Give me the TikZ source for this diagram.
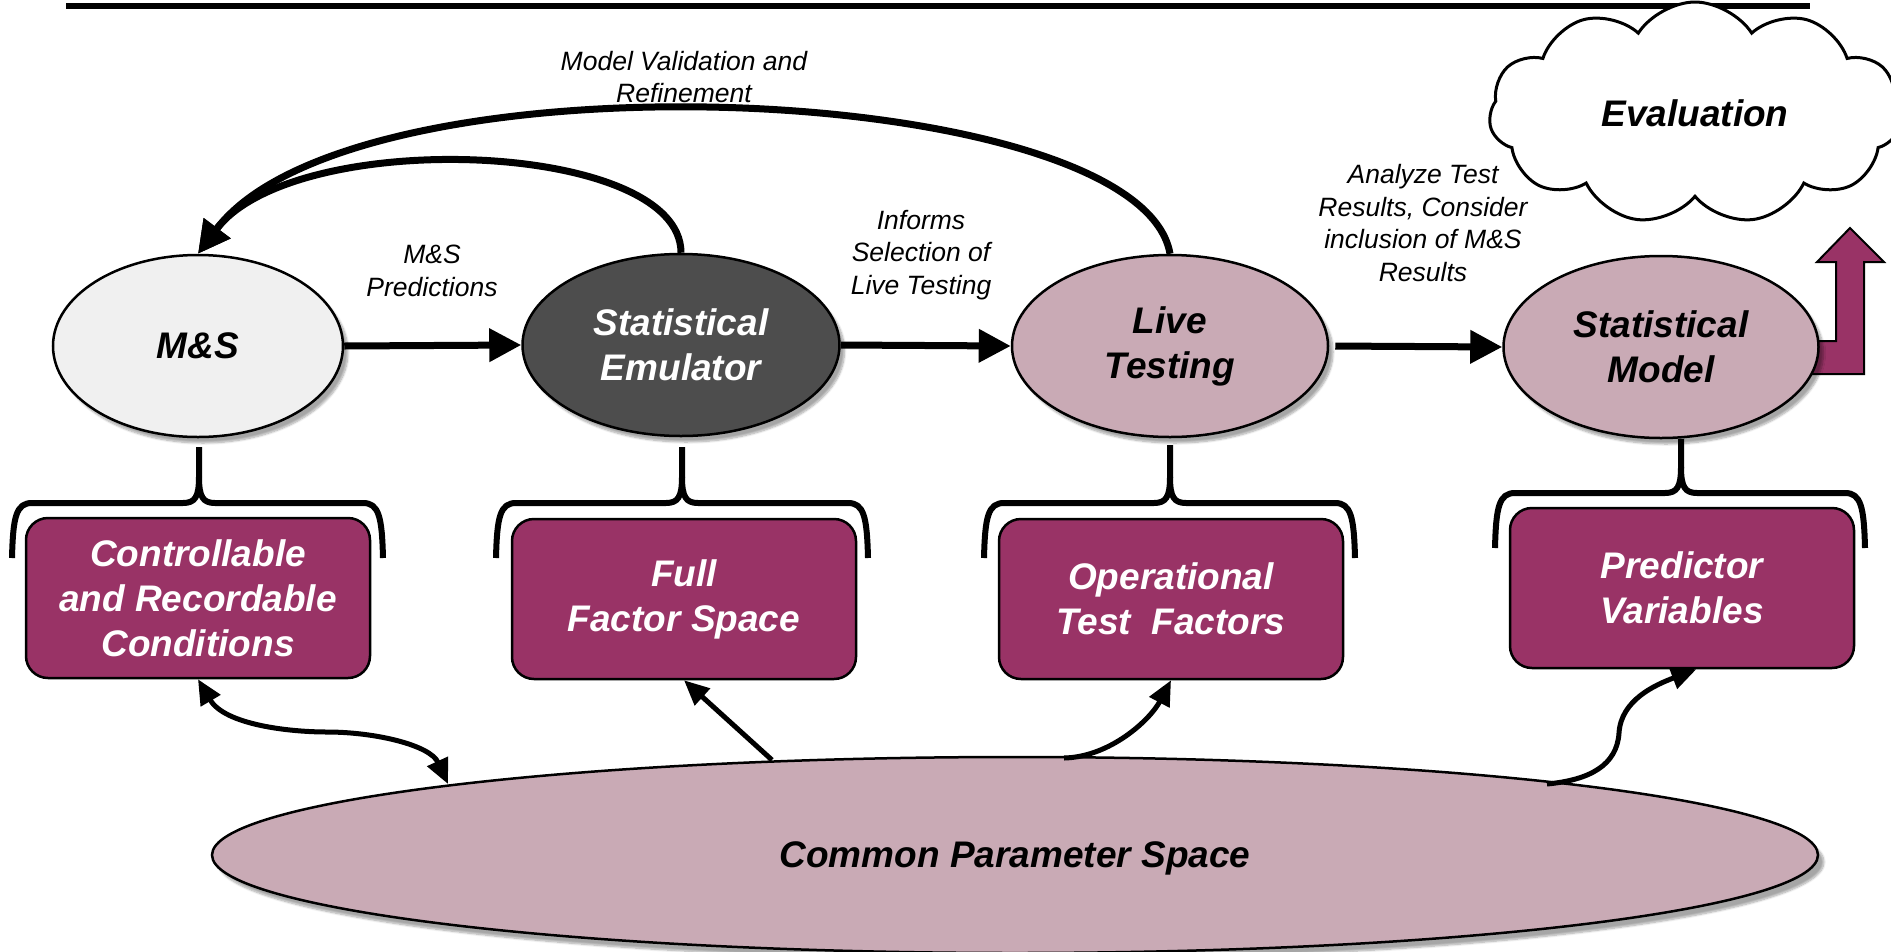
\documentclass[tikz,border=0pt]{standalone}
\usepackage{fontspec}
\setmainfont{Liberation Sans}
\usetikzlibrary{arrows.meta,shapes.geometric,shapes.symbols,shadows.blur}

\definecolor{plum}{HTML}{993366}
\definecolor{mauve}{HTML}{C9AAB5}
\definecolor{palegray}{HTML}{F0F0F0}
\definecolor{charcoal}{HTML}{4D4D4D}

% upward curly bracket: centre x, left x, right x, tip y, bar y, end y
\newcommand\upbrace[6]{%
  \draw[bracket] (#2,#6) .. controls (#2+1,#5+14) and (#2+4,#5) .. (#2+20,#5)
     -- (#1-16,#5) .. controls (#1-4,#5) and (#1,#5-6) .. (#1,#5-26) -- (#1,#4);
  \draw[bracket] (#3,#6) .. controls (#3-1,#5+14) and (#3-4,#5) .. (#3-20,#5)
     -- (#1+16,#5) .. controls (#1+4,#5) and (#1,#5-6) .. (#1,#5-26);
}

\begin{document}
\begin{tikzpicture}[x=1pt,y=-1pt,
  bigfont/.style={font=\fontsize{37}{45}\selectfont\bfseries\itshape},
  stage/.style={ellipse, draw=black, line width=2.5pt, minimum height=182pt,
    inner sep=0pt, align=center, bigfont,
    blur shadow={shadow xshift=5pt, shadow yshift=-6pt, shadow blur steps=8, shadow opacity=35}},
  factorbox/.style={rectangle, rounded corners=22pt, draw=black, line width=2.5pt,
    fill=plum, text=white, minimum width=344pt, minimum height=160pt,
    inner sep=0pt, align=center, bigfont},
  note/.style={align=center, inner sep=0pt, font=\fontsize{26.5}{32.5}\selectfont\itshape},
  flow/.style={line width=7pt, -{Triangle[length=32pt,width=32pt]}},
  link/.style={line width=5pt, -{Triangle[length=25pt,width=22pt]}},
  bracket/.style={line width=6pt, line join=round}
]
\useasboundingbox (0,0) rectangle (1891,951);

% rule across the top
\draw[line width=5.5pt] (66,6) coordinate (ruleL) -- (1810,6) coordinate (ruleR);

% cloud
\node[cloud, draw=black, fill=white, line width=3pt, cloud puffs=11, cloud puff arc=115,
  cloud ignores aspect, minimum width=412pt, minimum height=222pt, bigfont]
  (eval) at (1695,113) {Evaluation};

% bent block arrow leaving the statistical model
\draw[line width=2pt, fill=plum] (1790,341) -- (1836,341) -- (1836,262) -- (1817,262)
  -- (1850,228) -- (1884,262) -- (1864,262) -- (1864,374) -- (1790,374) -- cycle;

% stages
\node[stage, fill=palegray, minimum width=290pt] (ms) at (198,346) {M\&S};
\node[stage, fill=charcoal, text=white, minimum width=317pt] (emu) at (681,345) {Statistical\\Emulator};
\node[stage, fill=mauve, minimum width=316pt] (live) at (1170,346) {Live\\Testing};
\node[stage, fill=mauve, minimum width=315pt] (model) at (1661,347) {Statistical\\Model};

% factor boxes
\node[factorbox] (box1) at (198,598) {Controllable\\and Recordable\\Conditions};
\node[factorbox] (box2) at (684,599) {Full\\Factor Space};
\node[factorbox] (box3) at (1171,599) {Operational\\Test\ \ Factors};
\node[factorbox] (box4) at (1682,588) {Predictor\\Variables};

% brackets joining stages to boxes
\upbrace{199}{12}{383}{447}{503}{558}
\upbrace{682}{496}{868}{447}{503}{558}
\upbrace{1170}{984}{1355}{445}{503}{558}
\upbrace{1681}{1495}{1865}{439}{493}{548}

% common parameter space
\node[ellipse, draw=black, line width=2.5pt, fill=mauve, minimum width=1606pt,
  minimum height=196pt, inner sep=0pt, bigfont, text depth=0pt,
  blur shadow={shadow xshift=6pt, shadow yshift=-7pt, shadow blur steps=8, shadow opacity=35}]
  (common) at (1015,855) {Common Parameter Space};

% points on the rim of the common parameter space
\coordinate (rim1) at (448,784);
\coordinate (rim2) at (772,760);
\coordinate (rim3) at (1064,758);
\coordinate (rim4) at (1547,784);

% labels
\node[note] (lblval) at (684,77) {Model Validation and\\Refinement};
\node[note] (lblpred) at (432,271) {M\&S\\Predictions};
\node[note] (lblinf) at (921,255) {Informs\\Selection of\\Live Testing};
\node[note] (lblana) at (1423,223) {Analyze Test\\Results, Consider\\inclusion of M\&S\\Results};

% main flow
\draw[flow] (ms.east) -- (emu.west);
\draw[flow] (emu.east) -- (live.west);
\draw[flow, shorten <=6pt] (live.east) -- (model.west);

% feedback loops
\draw[flow] (live.north) .. controls (1140,80) and (354,46) .. (ms.north);
\draw[flow] (emu.north) .. controls (681,140) and (294,126) .. (ms.north);

% links from the common parameter space
\draw[link, {Triangle[length=25pt,width=22pt]}-{Triangle[length=25pt,width=22pt]}]
  (box1.south) .. controls (225,725) and (290,732) .. (327,732)
  .. controls (375,732) and (430,745) .. (rim1);
\draw[link] (rim2) -- (box2.south);
\draw[link] (rim3) .. controls (1110,757) and (1150,720) .. (box3.south);
\draw[link] (rim4) .. controls (1590,780) and (1617,765) .. (1619,733)
  .. controls (1621,700) and (1655,685) .. (box4.-80);
\end{tikzpicture}
\end{document}
